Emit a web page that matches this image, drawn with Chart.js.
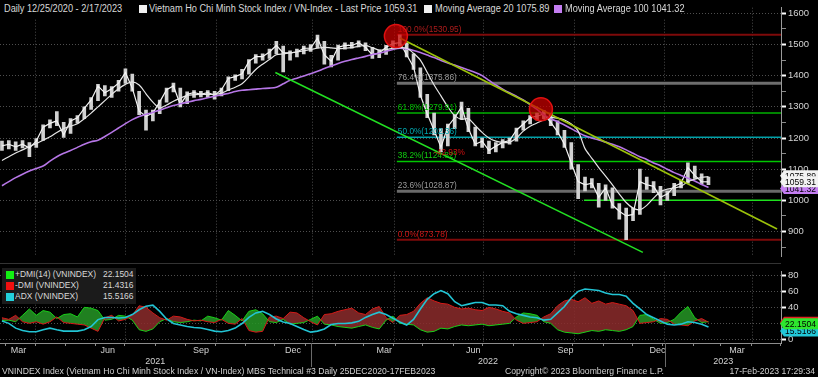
<!DOCTYPE html>
<html>
<head>
<meta charset="utf-8">
<title>VN-Index Technical</title>
<script src="https://cdn.jsdelivr.net/npm/chart.js@4.4.1/dist/chart.umd.min.js"></script>
<style>
  html, body { margin:0; padding:0; background:#000; }
  #wrap { position:relative; width:818px; height:377px; background:#000; overflow:hidden; font-family:"Liberation Sans", Arial, sans-serif; }
  canvas { position:absolute; left:0; }
  #c1 { top:0; }
  #c2 { top:264px; }
  #sep { position:absolute; left:0; top:263px; width:781px; height:1px; background:#333; }
  .t { position:absolute; white-space:nowrap; color:#d8d8d8; transform-origin:left center; }
  .t.r { transform-origin:right center; }
  .sq { position:absolute; width:8px; height:8px; box-sizing:border-box; }
  #lgTop { position:absolute; left:0; top:0; width:681px; height:18px; background:#000; font-size:10px; }
  #lgTop .t { top:3px; line-height:12px; transform:scaleX(0.92); }
  #lgTop .sq { top:5px; }
  #lgBot { position:absolute; left:2px; top:268px; width:134px; height:36px; background:#1b1b1b; font-size:9px; }
  #lgBot .t { line-height:11px; transform:scaleX(0.94); }
  #footer { position:absolute; left:0; top:365px; width:818px; height:12px; font-size:9px; }
  #footer .t { top:0; line-height:12px; color:#d0d0d0; transform:scaleX(0.96); }
</style>
</head>
<body>
<div id="wrap">
  <canvas id="c1" width="818" height="264"></canvas>
  <canvas id="c2" width="818" height="113"></canvas>
  <div id="sep"></div>
  <div id="lgTop"></div>
  <div id="lgBot"></div>
  <div id="footer"></div>
</div>
<script>
// ---------- axis range (dates) ----------
const axisStart = '2021-02-24';
const axisEnd = '2023-05-02';
const firstWeek = '2021-02-26';   // weekly samples (Fridays) up to 2023-02-17

// ---------- weekly price data (VN-Index) ----------
const closes = [1175,1180,1172,1180,1168,1190,1235,1247,1255,1210,
  1255,1265,1295,1322,1367,1345,1358,1376,1410,1360,
  1286,1270,1280,1316,1355,1367,1307,1340,1346,1340,
  1346,1337,1355,1391,1397,1406,1446,1461,1461,1476,
  1497,1473,1473,1476,1488,1488,1521,1467,1446,1491,
  1497,1497,1506,1491,1467,1473,1491,1503,1506,1467,
  1428,1337,1277,1225,1170,1237,1265,1300,1230,1180,
  1190,1160,1174,1186,1192,1225,1245,1265,1270,1277,
  1250,1220,1180,1120,1060,1050,1055,1010,1040,985,
  965,950,955,1060,1050,1045,1010,1020,1045,1055,
  1105,1080,1060,1059.31];
const highs = [1190,1192,1188,1192,1185,1198,1242,1258,1285,1250,
  1262,1272,1300,1330,1372,1368,1365,1385,1422,1405,
  1350,1290,1290,1322,1360,1376,1360,1348,1352,1350,
  1352,1350,1360,1396,1403,1420,1452,1468,1470,1485,
  1510,1495,1480,1485,1495,1500,1530,1510,1465,1498,
  1505,1507,1512,1505,1490,1482,1497,1512,1531,1505,
  1470,1425,1340,1280,1230,1245,1275,1315,1295,1235,
  1200,1190,1185,1195,1200,1232,1255,1272,1280,1288,
  1278,1255,1225,1185,1115,1075,1070,1055,1050,1040,
  990,975,975,1100,1075,1060,1045,1030,1055,1065,
  1120,1110,1085,1075];
const lows = [1160,1165,1160,1168,1140,1170,1192,1232,1240,1202,
  1215,1248,1262,1292,1320,1335,1330,1350,1375,1350,
  1275,1225,1255,1278,1315,1348,1300,1310,1330,1332,
  1330,1325,1335,1352,1385,1390,1405,1440,1450,1455,
  1470,1412,1450,1460,1470,1478,1490,1437,1428,1450,
  1485,1488,1492,1480,1455,1458,1468,1490,1495,1460,
  1420,1330,1265,1210,1155,1175,1230,1260,1220,1175,
  1170,1150,1155,1168,1180,1190,1225,1245,1258,1262,
  1240,1210,1170,1100,1005,1030,1040,978,1000,975,
  940,874,935,955,1035,1025,985,1000,1015,1040,
  1055,1070,1052,1050];
const ma20 = [1128,1140,1152,1162,1173,1182,1193,1204,1218,1230,
  1238,1246,1262,1280,1300,1320,1340,1358,1372,1380,
  1370,1342,1315,1296,1306,1318,1328,1337,1339,1340,
  1340,1340,1344,1354,1363,1374,1396,1420,1437,1452,
  1467,1470,1473,1476,1480,1484,1488,1491,1489,1487,
  1488,1490,1494,1497,1490,1482,1484,1488,1490,1488,
  1472,1450,1410,1370,1335,1300,1272,1260,1262,1240,
  1218,1200,1190,1186,1186,1200,1222,1238,1248,1258,
  1265,1264,1258,1245,1222,1166,1135,1105,1078,1050,
  1020,993,975,970,984,1007,1028,1036,1040,1045,
  1060,1068,1074,1075.89];
const ma100 = [1047,1060,1073,1084,1094,1102,1110,1126,1140,1151,
  1160,1170,1180,1188,1193,1205,1218,1232,1246,1259,
  1269,1276,1282,1290,1297,1304,1310,1315,1320,1324,
  1329,1334,1339,1343,1349,1353,1355,1357,1359,1360,
  1363,1374,1385,1392,1399,1406,1414,1423,1431,1439,
  1446,1452,1457,1462,1468,1472,1478,1484,1488,1486,
  1481,1474,1466,1458,1449,1441,1434,1426,1418,1410,
  1400,1385,1370,1357,1345,1334,1322,1307,1292,1274,
  1262,1252,1242,1230,1218,1207,1200,1194,1187,1180,
  1172,1162,1151,1140,1131,1120,1111,1100,1089,1080,
  1071,1062,1051,1041.32];

// ---------- weekly DMI / ADX data ----------
const plusDMI = [23.6,24,22,30,38,30,36,34,26,31,
  32,28,40,39,36,24,25,30,29,24,
  12,10,13,22,26,22,21,22,24,23,
  29,27,24,36,30,23,35,37,32,22,
  21,25,19,20,21,25,29,19,18,16,
  15,14,16,18,15,13,24,29,20,19,
  18,12,9,10,14,13,16,18,17,18,
  19,17,18,19,20,28,33,32,30,22,
  20,12,9,8,7,9,11,10,12,11,
  10,12,16,30,31,25,20,21,25,34,
  41,27,21,22.1504];
const minusDMI = [27,25,30,22,20,22,19,22,28,21,
  20,19,18,14,10,27,30,23,25,30,
  42,40,33,27,24,29,28,25,23,24,
  22,21,25,20,19,26,11,9,10,28,
  29,26,34,33,27,22,18,31,32,35,
  37,39,33,31,38,41,27,21,30,31,
  35,45,52,48,45,44,40,38,39,37,
  36,40,38,35,33,24,20,21,22,28,
  32,42,48,50,47,52,45,48,44,46,
  44,42,36,20,21,22,26,25,19,18,
  17,23,26,21.4316];
const adx = [23,20,14,11,9.5,9.5,12,14,12,10.3,
  10.3,10.3,12,16,24.7,27.4,27.4,26.6,27.4,31,
  37,41.5,42.7,35,25.5,19.8,17.9,16,14.9,14.1,
  12.2,10.3,9.5,11,14.1,19.8,27.4,33,35,31,
  25.5,21.7,19.8,16,12.2,9,10.3,13,18.6,19.8,
  19.8,20.6,22.5,27.4,31,34,31,26.3,21.7,17.9,
  25,38,50,57,61,57,47,42,44,46,
  46,43,43,42,35,32,30,28,27,24,
  25,33,41,52,60,63,62,61,58,56,
  56,54,45,38,31,27,23,19,18,19,
  22,21,19,15.5166];

// ---------- Fibonacci retracement ----------
const fibStartDate = '2022-04-05';
const fibLabels = ['100.0%','76.4%','61.8%','50.0%','38.2%','23.6%','0.0%'];
const fibLevels = [1530.95,1375.86,1279.91,1202.36,1124.82,1028.87,873.78];
const fibChangeLabel = '-42.93%';

// ---------- drawn lines ----------
const trendDates = ['2022-04-08','2023-04-28'];
const trendValues = [1521,908];
const channelDates = ['2021-12-02','2022-12-12'];
const channelValues = [1410,833];
const supportDates = ['2022-10-13', axisEnd];
const supportValues = [1000,1000];
const circleDates = ['2022-04-04','2022-08-30'];
const circleValues = [1527,1292];

// ---------- axis ticks (anchors follow the trading-day time axis) ----------
const priceTicks = [900,1000,1100,1200,1300,1400,1500,1600];
const priceMinorTicks = [850,950,1050,1150,1250,1350,1450,1550];
const dmiTicks = [0,20,40,60,80];
const dmiMinorTicks = [10,30,50,70];
const gridDates = ['2021-04-01','2021-07-02','2021-10-03','2022-01-09','2022-04-03','2022-07-02','2022-10-03','2023-01-03','2023-04-03'];
const monthLabels = ['Mar','Jun','Sep','Dec','Mar','Jun','Sep','Dec','Mar'];
const monthLabelDates = ['2021-03-15','2021-06-14','2021-09-17','2021-12-20','2022-03-23','2022-06-22','2022-09-24','2022-12-27','2023-03-18'];
const yearLabels = ['2021','2022','2023'];
const yearBoundDates = ['2022-01-07','2023-01-04'];

// ---------- styles ----------
const fibLineColors = ['#7e0a0a','#6e6e6e','#00b000','#00a0a8','#00c800','#6a6a6a','#7e0a0a'];
const fibTextColors = ['#b01c1c','#9a9a9a','#00c000','#00a8b0','#10d010','#9a9a9a','#d01515'];
const fibWidths = [2,3,1.5,1.5,1.5,3,2];
const FONT = '"Liberation Sans", Arial, sans-serif';

function day(s) { return (Date.parse(s + 'T00:00:00Z') - Date.parse(axisStart + 'T00:00:00Z')) / 864e5; }
const weekDates = closes.map((_, i) => new Date(Date.parse(firstWeek + 'T00:00:00Z') + i * 7 * 864e5).toISOString().slice(0, 10));
const xs = weekDates.map(day);
const pts = arr => arr.map((v, i) => ({x: xs[i], y: v}));
const seg = (ds, vs) => ds.map((d, i) => ({x: day(d), y: vs[i]}));

Chart.defaults.font.family = FONT;
Chart.defaults.animation = false;

function xScaleCfg(height) {
  return {
    type: 'linear', min: 0, max: day(axisEnd), offset: false,
    afterBuildTicks: s => { s.ticks = gridDates.map(d => ({value: day(d)})); },
    afterFit: s => { s.height = height; },
    ticks: {display: false},
    grid: {color: '#4a4a4a', lineWidth: 1, drawTicks: false, offset: false},
    border: {display: height > 0, color: '#8c8c8c', dash: [1, 2]}
  };
}
function yScaleCfg(min, max, major, minor) {
  const all = major.concat(minor).sort((a, b) => a - b);
  const isMajor = v => major.indexOf(v) >= 0;
  return {
    position: 'right', min: min, max: max,
    afterBuildTicks: s => { s.ticks = all.map(v => ({value: v})); },
    afterFit: s => { s.width = 37; },
    ticks: {color: '#d4d4d4', font: {size: 9.5, family: FONT}, padding: 2,
      callback: v => isMajor(v) ? String(v) : ''},
    grid: {
      color: c => (c.tick && isMajor(c.tick.value)) ? '#4e4e4e' : 'rgba(0,0,0,0)',
      tickColor: c => (c.tick && isMajor(c.tick.value)) ? '#ffffff' : '#8a8a8a',
      tickWidth: c => (c.tick && isMajor(c.tick.value)) ? 2 : 1,
      tickLength: 5
    },
    border: {display: true, color: '#9a9a9a', dash: [1, 2]}
  };
}

function narrowText(ctx, text, x, y, sx) {
  ctx.save();
  ctx.translate(x, y);
  ctx.scale(sx, 1);
  ctx.fillText(text, 0, 0);
  ctx.restore();
}

function drawTag(ctx, x, y, text, bg, fg) {
  const h = 11, w = 818 - x;
  ctx.fillStyle = bg;
  ctx.beginPath();
  ctx.moveTo(x, y);
  ctx.lineTo(x + 4, y - h / 2);
  ctx.lineTo(x + w, y - h / 2);
  ctx.lineTo(x + w, y + h / 2);
  ctx.lineTo(x + 4, y + h / 2);
  ctx.closePath();
  ctx.fill();
  ctx.fillStyle = fg;
  ctx.font = '9.5px ' + FONT;
  ctx.textAlign = 'left';
  ctx.textBaseline = 'middle';
  narrowText(ctx, text, x + 5, y + 0.5, 0.9);
}

const topPlugin = {
  id: 'topAnnotations',
  afterDatasetsDraw(chart) {
    const {ctx, scales: {x, y}} = chart;
    ctx.save();
    const fx = x.getPixelForValue(day(fibStartDate));
    ctx.font = '9px ' + FONT;
    ctx.textAlign = 'left';
    ctx.textBaseline = 'bottom';
    fibLevels.forEach((lv, i) => {
      ctx.fillStyle = fibTextColors[i];
      narrowText(ctx, fibLabels[i] + '(' + lv.toFixed(2) + ')', fx + 1, y.getPixelForValue(lv) - 1, 0.92);
    });
    ctx.fillStyle = '#d01010';
    ctx.textAlign = 'right';
    narrowText(ctx, fibChangeLabel, fx + 68, y.getPixelForValue(fibLevels[4]) - 4, 0.92);
    circleDates.forEach((d, i) => {
      const cx = x.getPixelForValue(day(d)), cy = y.getPixelForValue(circleValues[i]);
      ctx.beginPath();
      ctx.arc(cx, cy, 11.5, 0, Math.PI * 2);
      ctx.fillStyle = 'rgba(205,0,0,0.72)';
      ctx.fill();
      ctx.lineWidth = 1.5;
      ctx.strokeStyle = '#e01010';
      ctx.stroke();
    });
    ctx.restore();
  },
  afterDraw(chart) {
    const {ctx, scales: {y}, chartArea} = chart;
    ctx.save();
    const tx = chartArea.right - 1;
    drawTag(ctx, tx, y.getPixelForValue(ma20[ma20.length - 1]) - 1, ma20[ma20.length - 1].toFixed(2), '#f2f2f2', '#000');
    drawTag(ctx, tx, y.getPixelForValue(ma100[ma100.length - 1]) + 1, ma100[ma100.length - 1].toFixed(2), '#c47ef2', '#000');
    drawTag(ctx, tx, y.getPixelForValue(closes[closes.length - 1]), closes[closes.length - 1].toFixed(2), '#f2f2f2', '#000');
    ctx.restore();
  }
};

const lineDs = (data, color, width, order, extra) => Object.assign({
  type: 'line', data: data, borderColor: color, borderWidth: width, pointRadius: 0,
  tension: 0, fill: false, order: order
}, extra || {});

const topDatasets = [];
fibLevels.forEach((lv, i) => {
  topDatasets.push(lineDs([{x: day(fibStartDate), y: lv}, {x: day(axisEnd), y: lv}], fibLineColors[i], fibWidths[i], 10));
});
topDatasets.push(lineDs(seg(supportDates, supportValues), '#1ee01e', 1.5, 10));
topDatasets.push({
  type: 'bar', data: weekDates.map((d, i) => ({x: xs[i], y: [lows[i], highs[i]]})),
  backgroundColor: '#d0d0d0', barThickness: 3, order: 6
});
topDatasets.push(lineDs(pts(closes), '#f4f4f4', 1.2, 5));
topDatasets.push(lineDs(pts(ma100), '#b676e6', 1.6, 4, {tension: 0.3}));
topDatasets.push(lineDs(pts(ma20), '#e6e6e6', 1.2, 3, {tension: 0.3}));
topDatasets.push(lineDs(seg(trendDates, trendValues), '#9cc20a', 1.6, 1));
topDatasets.push(lineDs(seg(channelDates, channelValues), '#22e022', 1.6, 1));

new Chart(document.getElementById('c1'), {
  type: 'bar',
  data: {datasets: topDatasets},
  options: {
    responsive: false, maintainAspectRatio: false, animation: false,
    layout: {padding: 0},
    plugins: {legend: {display: false}, tooltip: {enabled: false}},
    scales: {
      x: xScaleCfg(0),
      y: yScaleCfg(820.5, 1618.1, priceTicks, priceMinorTicks)
    }
  },
  plugins: [topPlugin]
});

const bottomPlugin = {
  id: 'bottomAxis',
  afterDraw(chart) {
    const {ctx, scales: {x, y}, chartArea} = chart;
    ctx.save();
    const base = chartArea.bottom;
    // month tick marks
    ctx.strokeStyle = '#8c8c8c';
    ctx.lineWidth = 1;
    for (let m = 0; m < 27; m++) {
      const d = new Date(Date.UTC(2021, 2 + m, 1)).toISOString().slice(0, 10);
      const px = Math.round(x.getPixelForValue(day(d))) + 0.5;
      if (px > chartArea.right) break;
      ctx.beginPath(); ctx.moveTo(px, base); ctx.lineTo(px, base + 3); ctx.stroke();
    }
    // month labels
    ctx.fillStyle = '#d2d2d2';
    ctx.font = '9px ' + FONT;
    ctx.textAlign = 'center';
    ctx.textBaseline = 'middle';
    monthLabelDates.forEach((d, i) => ctx.fillText(monthLabels[i], x.getPixelForValue(day(d)), base + 8));
    // year separators and labels
    const bounds = [chartArea.left].concat(yearBoundDates.map(d => x.getPixelForValue(day(d)))).concat([chartArea.right]);
    ctx.strokeStyle = '#6a6a6a';
    yearBoundDates.forEach(d => {
      const px = Math.round(x.getPixelForValue(day(d))) + 0.5;
      ctx.beginPath(); ctx.moveTo(px, base); ctx.lineTo(px, base + 24); ctx.stroke();
    });
    yearLabels.forEach((t, i) => ctx.fillText(t, (bounds[i] + bounds[i + 1]) / 2, base + 19));
    // value tags
    const tx = chartArea.right - 1;
    drawTag(ctx, tx, y.getPixelForValue(minusDMI[minusDMI.length - 1]), minusDMI[minusDMI.length - 1].toFixed(4), '#e02020', '#000');
    drawTag(ctx, tx, y.getPixelForValue(adx[adx.length - 1]) + 4, adx[adx.length - 1].toFixed(4), '#22c8d8', '#000');
    drawTag(ctx, tx, y.getPixelForValue(plusDMI[plusDMI.length - 1]) + 2, plusDMI[plusDMI.length - 1].toFixed(4), '#2ee62e', '#000');
    ctx.restore();
  }
};

new Chart(document.getElementById('c2'), {
  type: 'line',
  data: {datasets: [
    lineDs(pts(plusDMI), '#18d018', 1, 3, {fill: {target: 1, above: 'rgba(38,150,38,0.85)', below: 'rgba(140,44,44,0.85)'}}),
    lineDs(pts(minusDMI), '#d81818', 1, 2),
    lineDs(pts(adx), '#22c4d4', 1.6, 1)
  ]},
  options: {
    responsive: false, maintainAspectRatio: false, animation: false,
    layout: {padding: {top: 1, left: 0, right: 0, bottom: 0}},
    plugins: {legend: {display: false}, tooltip: {enabled: false}},
    scales: {
      x: xScaleCfg(34),
      y: yScaleCfg(-4.57, 84.57, dmiTicks, dmiMinorTicks)
    }
  },
  plugins: [bottomPlugin]
});

// ---------- HTML legends and footer ----------
function addText(parent, text, css, right) {
  const el = document.createElement('div');
  el.className = right ? 't r' : 't';
  el.textContent = text;
  Object.assign(el.style, css);
  parent.appendChild(el);
  return el;
}
function addSq(parent, color, css) {
  const el = document.createElement('div');
  el.className = 'sq';
  el.style.background = color;
  Object.assign(el.style, css);
  parent.appendChild(el);
}
const lgTop = document.getElementById('lgTop');
addText(lgTop, 'Daily 12/25/2020 - 2/17/2023', {left: '4px'});
addSq(lgTop, '#f0f0f0', {left: '139px'});
addText(lgTop, 'Vietnam Ho Chi Minh Stock Index / VN-Index - Last Price ' + closes[closes.length - 1].toFixed(2), {left: '149px'});
addSq(lgTop, '#f0f0f0', {left: '424px'});
addText(lgTop, 'Moving Average 20 ' + ma20[ma20.length - 1].toFixed(2), {left: '435px'});
addSq(lgTop, '#c47ef2', {left: '554px'});
addText(lgTop, 'Moving Average 100 ' + ma100[ma100.length - 1].toFixed(2), {left: '565px'});

const lgBot = document.getElementById('lgBot');
const botNames = ['+DMI(14) (VNINDEX)', '-DMI (VNINDEX)', 'ADX (VNINDEX)'];
const botColors = ['#12f012', '#f01010', '#22d0dc'];
const botVals = [plusDMI[plusDMI.length - 1], minusDMI[minusDMI.length - 1], adx[adx.length - 1]];
botNames.forEach((n, i) => {
  addSq(lgBot, botColors[i], {left: '4px', top: (3 + i * 11) + 'px'});
  addText(lgBot, n, {left: '13px', top: (1 + i * 11) + 'px'});
  addText(lgBot, botVals[i].toFixed(4), {right: '2px', top: (1 + i * 11) + 'px'}, true);
});

const footer = document.getElementById('footer');
addText(footer, 'VNINDEX Index (Vietnam Ho Chi Minh Stock Index / VN-Index) MBS Technical #3  Daily 25DEC2020-17FEB2023', {left: '2px'});
addText(footer, 'Copyright\u00a9 2023 Bloomberg Finance L.P.', {left: '505px'});
addText(footer, '17-Feb-2023 17:29:34', {right: '3px'}, true);
</script>
</body>
</html>
